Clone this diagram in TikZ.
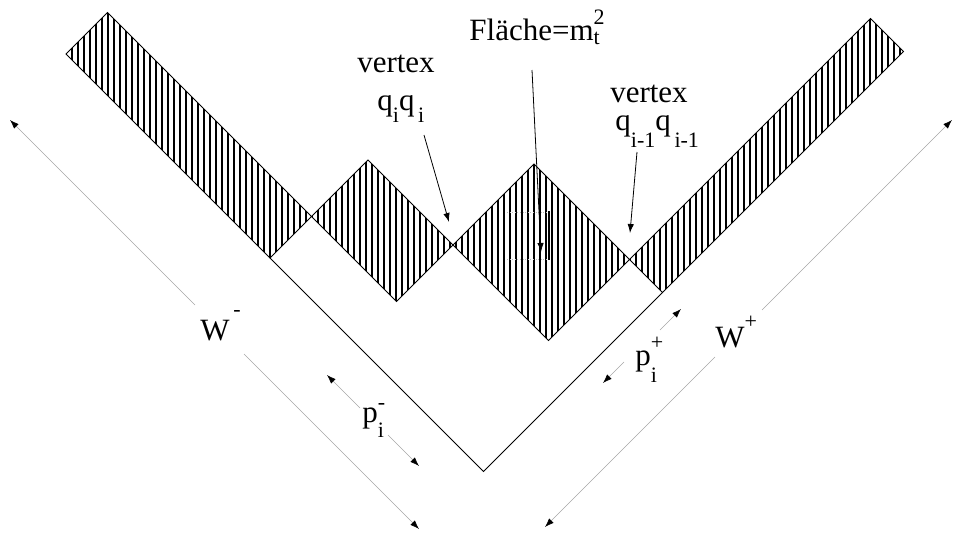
\documentclass[tikz,border=0pt]{standalone}
\usepackage{fontspec}
\setmainfont{Liberation Serif}
\usetikzlibrary{arrows.meta,patterns.meta}
\newcommand{\up}[2][.5em]{\raisebox{#1}{\fontsize{11}{11}\selectfont #2}}
\newcommand{\dn}[2][.5em]{\raisebox{-#1}{\fontsize{11}{11}\selectfont #2}}
\tikzset{
  hatched/.style={draw,line width=.5pt,pattern={Lines[angle=90,distance=3pt,line width=.6pt]}},
  dimline/.style={gray!70,line width=.3pt,-{Latex[length=4.5pt,width=3.2pt,color=black]}},
  pointer/.style={line width=.4pt,-{Latex[length=4.5pt,width=3.2pt]}},
  lbl/.style={inner sep=0pt,font=\fontsize{15.5}{17}\selectfont}
}
\begin{document}
\begin{tikzpicture}[x=.5pt,y=-.5pt]
    \useasboundingbox (0,0) rectangle (954,536);
    \draw[hatched] (66,54) -- (107.5,12.5) -- (311.5,216.5) -- (270,258) -- cycle;
    \draw[hatched] (311.5,216.5) -- (368,160) -- (453,245) -- (396.5,301.5) -- cycle;
    \draw[hatched] (453,245) -- (534,164) -- (629.5,259.5) -- (548.5,340.5) -- cycle;
    \draw[hatched] (629.5,259.5) -- (870.5,18.5) -- (903.5,51.5) -- (662.5,292.5) -- cycle;
    \draw[line width=.5pt] (270,258) -- (483.5,471.5) -- (662.5,292.5);
    \draw[gray!50,densely dotted,line width=.3pt] (507,212) -- (548,212) (507,259) -- (548,259);
    \draw[line width=1pt] (548.5,211) -- (548.5,260);

    \node[lbl,anchor=base west] (flaeche) at (469,40) {Fläche=m\rlap{\up{2}}\dn[.16em]{t}};
    \node[lbl,anchor=base] (vtxl) at (396,72) {vertex};
    \node[lbl,anchor=base west] (qql) at (377,110) {q\dn[.4em]{i}q\dn[.4em]{\,i}};
    \node[lbl,anchor=base] (vtxr) at (649,102) {vertex};
    \node[lbl,anchor=base west] (qqr) at (615,130) {q\dn[.55em]{i-1}q\dn[.55em]{\,i-1}};
    \node[lbl,anchor=base west] (wm) at (200,340) {W\up[.75em]{\,-}};
    \node[lbl,anchor=base west] (wp) at (715,347) {W\up[.6em]{+}};
    \node[lbl,anchor=base west] (pm) at (362,422) {p\rlap{\up[.4em]{-}}\dn{i}};
    \node[lbl,anchor=base west] (pp) at (635,365) {p\rlap{\up{+}}\dn[.55em]{i}};

    \coordinate (flA) at (532,70);
    \coordinate (flB) at (541,252);
    \coordinate (vlA) at (424,135);
    \coordinate (vlB) at (449,222);
    \coordinate (vrA) at (637,152);
    \coordinate (vrB) at (630,233);
    \draw[pointer] (flA) -- (flB);
    \draw[pointer] (vlA) -- (vlB);
    \draw[pointer] (vrA) -- (vrB);

    \coordinate (wmA) at (195,305);
    \coordinate (wmB) at (10,120);
    \coordinate (wmC) at (244,354);
    \coordinate (wmD) at (419,529);
    \draw[dimline] (wmA) -- (wmB);
    \draw[dimline] (wmC) -- (wmD);
    \coordinate (wpA) at (762,310);
    \coordinate (wpB) at (952,120);
    \coordinate (wpC) at (715,357);
    \coordinate (wpD) at (545,527);
    \draw[dimline] (wpA) -- (wpB);
    \draw[dimline] (wpC) -- (wpD);
    \coordinate (pmA) at (360,408);
    \coordinate (pmB) at (327,375);
    \coordinate (pmC) at (388,435);
    \coordinate (pmD) at (419,466);
    \draw[dimline] (pmA) -- (pmB);
    \draw[dimline] (pmC) -- (pmD);
    \coordinate (ppA) at (660,330);
    \coordinate (ppB) at (681,309);
    \coordinate (ppC) at (624,362);
    \coordinate (ppD) at (603,383);
    \draw[dimline] (ppA) -- (ppB);
    \draw[dimline] (ppC) -- (ppD);
\end{tikzpicture}
\end{document}
